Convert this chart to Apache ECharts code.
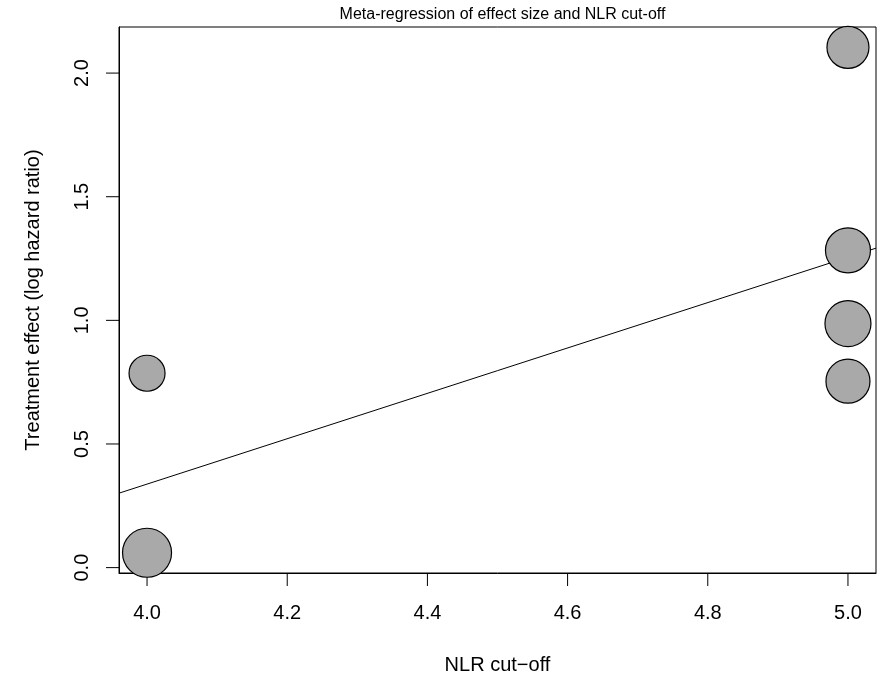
<!DOCTYPE html>
<html>
<head>
<meta charset="utf-8">
<script src="https://cdn.jsdelivr.net/npm/echarts@6/dist/echarts.min.js"></script>
<style>html,body{margin:0;padding:0;background:#fff}#c{width:886px;height:681px}</style>
</head>
<body>
<div id="c"></div>
<script>
// Study points: NLR cut-off vs. log hazard ratio
const cutoff = [4.0, 4.0, 5.0, 5.0, 5.0, 5.0];
const logHR = [0.060, 0.786, 2.104, 1.283, 0.987, 0.754];
const pointSize = [49, 36, 42, 45, 46, 44];
// Fitted meta-regression line (ends at axis limits)
const fitX = [3.96, 5.04];
const fitY = [0.301, 1.292];
// Tick labels
const xTicks = [4.0, 4.2, 4.4, 4.6, 4.8, 5.0];
const yTicks = [0.0, 0.5, 1.0, 1.5, 2.0];

const X_MIN = 3.96, X_MAX = 5.04, Y_MIN = -0.0218, Y_MAX = 2.1864;
const TICK = 13;
const FONT = 'Liberation Sans, Arial, Helvetica, sans-serif';
const chart = echarts.init(document.getElementById('c'));
chart.setOption({
  animation: false,
  backgroundColor: '#fff',
  title: {
    text: 'Meta-regression of effect size and NLR cut-off',
    left: 497.5, textAlign: 'center', top: 2,
    textStyle: { fontFamily: FONT, fontSize: 16, fontWeight: 'normal', color: '#000' }
  },
  grid: { left: 119, right: 10, top: 27, bottom: 108, show: true, borderColor: '#000', borderWidth: 1 },
  xAxis: {
    type: 'value', min: X_MIN, max: X_MAX,
    name: 'NLR cut\u2212off', nameLocation: 'middle', nameGap: 82,
    nameTextStyle: { fontFamily: FONT, fontSize: 20, color: '#000' },
    axisLine: { show: true, onZero: false, lineStyle: { color: '#000', width: 1 } },
    splitLine: { show: false },
    axisTick: { show: false },
    axisLabel: { customValues: xTicks, margin: 30, fontFamily: FONT, fontSize: 20, color: '#000',
      formatter: v => v.toFixed(1) }
  },
  yAxis: {
    type: 'value', min: Y_MIN, max: Y_MAX,
    name: 'Treatment effect (log hazard ratio)', nameLocation: 'middle', nameGap: 76, nameRotate: 90,
    nameTextStyle: { fontFamily: FONT, fontSize: 20, color: '#000' },
    axisLine: { show: true, onZero: false, lineStyle: { color: '#000', width: 1 } },
    splitLine: { show: false },
    axisTick: { show: false },
    axisLabel: { customValues: yTicks, margin: 27, rotate: 90, fontFamily: FONT, fontSize: 20, color: '#000',
      formatter: v => v.toFixed(1) }
  },
  series: [
    {
      type: 'custom', silent: true, clip: false, z: 1,
      data: xTicks.map(v => [v, Y_MIN]),
      renderItem: (params, api) => {
        const p = api.coord([api.value(0), api.value(1)]);
        return { type: 'line', shape: { x1: p[0], y1: p[1], x2: p[0], y2: p[1] + TICK },
          style: { stroke: '#000', lineWidth: 1 } };
      }
    },
    {
      type: 'custom', silent: true, clip: false, z: 1,
      data: yTicks.map(v => [X_MIN, v]),
      renderItem: (params, api) => {
        const p = api.coord([api.value(0), api.value(1)]);
        return { type: 'line', shape: { x1: p[0], y1: p[1], x2: p[0] - TICK, y2: p[1] },
          style: { stroke: '#000', lineWidth: 1 } };
      }
    },
    {
      type: 'line', data: fitX.map((x, i) => [x, fitY[i]]), symbol: 'none', z: 2,
      lineStyle: { color: '#000', width: 1 }
    },
    {
      type: 'scatter', data: cutoff.map((x, i) => [x, logHR[i], pointSize[i]]), z: 3,
      symbolSize: d => d[2],
      itemStyle: { color: '#A9A9A9', borderColor: '#000', borderWidth: 1.2, opacity: 1 }
    }
  ]
});
</script>
</body>
</html>
